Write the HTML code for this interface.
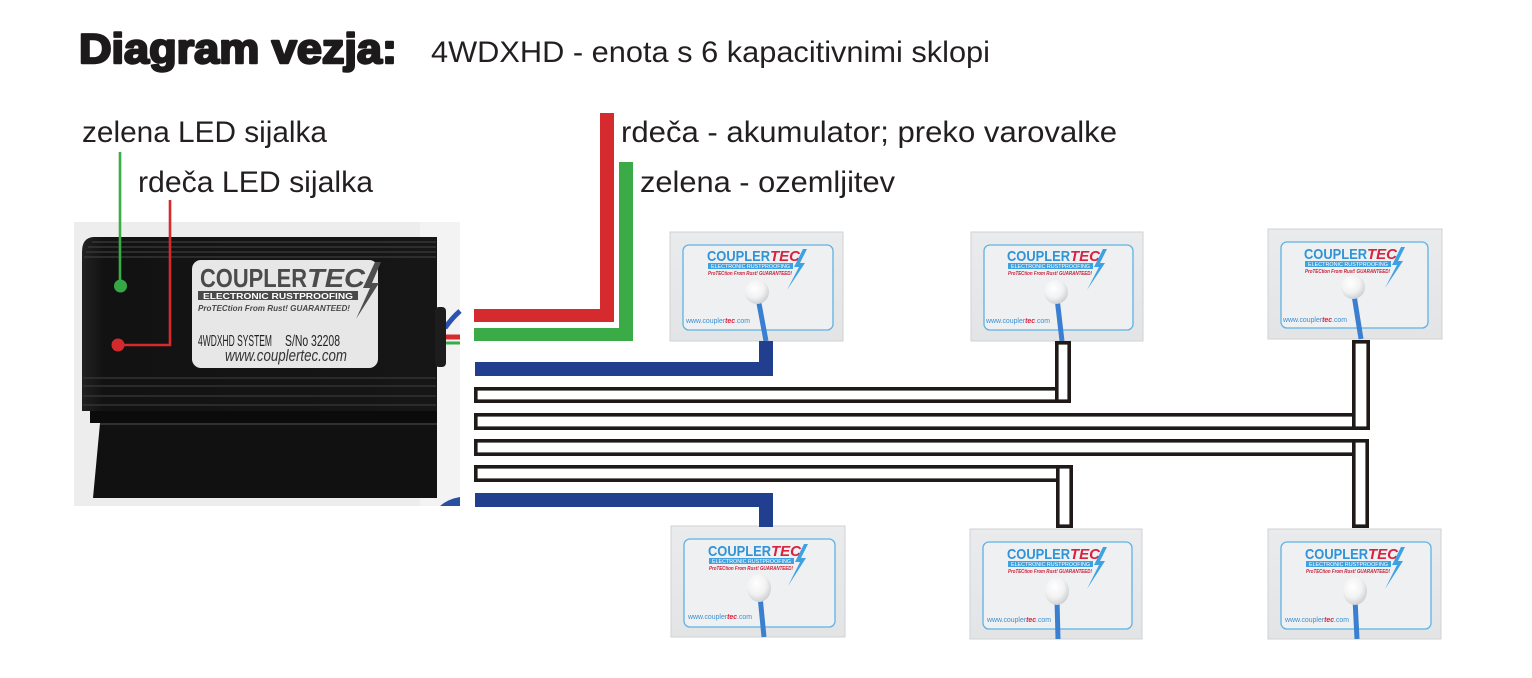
<!DOCTYPE html>
<html>
<head>
<meta charset="utf-8">
<style>
  html,body{margin:0;padding:0;background:#ffffff;}
  body{width:1532px;height:678px;overflow:hidden;}
  svg{display:block;}
  text{font-family:"Liberation Sans", Arial, sans-serif;}
</style>
</head>
<body>
<svg width="1532" height="678" viewBox="0 0 1532 678" xmlns="http://www.w3.org/2000/svg">
  <defs>
    <radialGradient id="ball" cx="40%" cy="35%" r="65%">
      <stop offset="0" stop-color="#ffffff"/>
      <stop offset="0.6" stop-color="#f2f2f2"/>
      <stop offset="1" stop-color="#cfd2d4"/>
    </radialGradient>
    <linearGradient id="bodyg" x1="0" y1="0" x2="1" y2="0">
      <stop offset="0" stop-color="#222"/>
      <stop offset="0.06" stop-color="#121212"/>
      <stop offset="1" stop-color="#161616"/>
    </linearGradient>
    <linearGradient id="cardg" x1="0" y1="0" x2="0" y2="1">
      <stop offset="0" stop-color="#e9ebed"/>
      <stop offset="1" stop-color="#e2e4e6"/>
    </linearGradient>
  </defs>

  <!-- Title -->
  <text x="79" y="63" font-size="42" font-weight="bold" fill="#1c1a1a" stroke="#1c1a1a" stroke-width="2.4" stroke-linejoin="round" textLength="318" lengthAdjust="spacingAndGlyphs">Diagram vezja:</text>
  <text x="431" y="62" font-size="30" fill="#231f20" textLength="559" lengthAdjust="spacingAndGlyphs">4WDXHD - enota s 6 kapacitivnimi sklopi</text>

  <!-- LED labels -->
  <text x="82" y="142" font-size="30" fill="#231f20" textLength="245" lengthAdjust="spacingAndGlyphs">zelena LED sijalka</text>
  <text x="138" y="192" font-size="30" fill="#231f20" textLength="235" lengthAdjust="spacingAndGlyphs">rdeča LED sijalka</text>

  <!-- Wire labels -->
  <text x="621" y="142" font-size="30" fill="#231f20" textLength="496" lengthAdjust="spacingAndGlyphs">rdeča - akumulator; preko varovalke</text>
  <text x="640" y="192" font-size="30" fill="#231f20" textLength="255" lengthAdjust="spacingAndGlyphs">zelena - ozemljitev</text>

  <!-- Control box photo -->
  <rect x="74" y="222" width="386" height="284" fill="#ededed"/>
  <rect x="420" y="222" width="40" height="284" fill="#f3f3f3"/>
  <!-- main body -->
  <path d="M93,237 L437,237 L437,411 L82,411 L82,252 Q82,238 93,237 Z" fill="url(#bodyg)"/>
  <!-- top fins -->
  <g stroke="#3c3c3c" stroke-width="1.2">
    <line x1="92" y1="242" x2="436" y2="242"/>
    <line x1="88" y1="247" x2="436" y2="247"/>
    <line x1="86" y1="252" x2="436" y2="252"/>
    <line x1="84" y1="257" x2="436" y2="257"/>
  </g>
  <!-- lower fins -->
  <g stroke="#383838" stroke-width="1.3">
    <line x1="83" y1="378" x2="436" y2="378"/>
    <line x1="83" y1="386" x2="436" y2="386"/>
    <line x1="83" y1="396" x2="436" y2="396"/>
    <line x1="83" y1="405" x2="436" y2="405"/>
  </g>
  <rect x="90" y="411" width="347" height="12" fill="#0b0b0b"/>
  <!-- foot -->
  <path d="M100,423 L437,423 L437,498 L93,498 Z" fill="#111111"/>
  <line x1="100" y1="424" x2="437" y2="424" stroke="#3a3a3a" stroke-width="1.5"/>
  <path d="M440,506 Q448,499 460,497 L460,506 Z" fill="#2a4fa0"/>
  <!-- gland + wires -->
  <path d="M445,328 Q452,318 460,311" stroke="#2a52b0" stroke-width="5" fill="none"/>
  <line x1="445" y1="337" x2="460" y2="337" stroke="#d52b2f" stroke-width="5"/>
  <line x1="445" y1="343" x2="460" y2="343" stroke="#3bab48" stroke-width="3"/>
  <rect x="435" y="307" width="11" height="60" rx="4" fill="#1d1d1d"/>

  <!-- label on box -->
  <rect x="192" y="260" width="186" height="108" rx="9" fill="#e7e7e7"/>
  <text x="200" y="287" font-size="26" font-weight="bold" fill="#4b4b4b" textLength="107" lengthAdjust="spacingAndGlyphs">COUPLER</text>
  <text x="307" y="287" font-size="26" font-weight="bold" font-style="italic" fill="#4b4b4b" textLength="58" lengthAdjust="spacingAndGlyphs">TEC</text>
  <rect x="198" y="291" width="160" height="9" fill="#4a4a4a"/>
  <text x="203" y="299" font-size="8" font-weight="bold" fill="#ffffff" textLength="150" lengthAdjust="spacingAndGlyphs">ELECTRONIC RUSTPROOFING</text>
  <path d="M375,262 L363,288 L370,288 L356,319 L379,283 L372,283 L381,262 Z" fill="#4d4d4d"/>
  <text x="198" y="311" font-size="8.5" font-weight="bold" font-style="italic" fill="#4a4a4a" textLength="152" lengthAdjust="spacingAndGlyphs">ProTECtion From Rust! GUARANTEED!</text>
  <text x="198" y="346" font-size="16" fill="#222222" textLength="74" lengthAdjust="spacingAndGlyphs">4WDXHD SYSTEM</text>
  <text x="285" y="346" font-size="16" fill="#222222" textLength="55" lengthAdjust="spacingAndGlyphs">S/No 32208</text>
  <text x="225" y="361" font-size="17" font-style="italic" fill="#333333" textLength="122" lengthAdjust="spacingAndGlyphs">www.couplertec.com</text>

  <!-- LED indicators -->
  <line x1="120" y1="152" x2="120" y2="286" stroke="#3bab48" stroke-width="2.6"/>
  <circle cx="120.5" cy="286" r="6.5" fill="#35a845"/>
  <polyline points="170,200 170,345 118,345" stroke="#d52b2f" stroke-width="2.6" fill="none"/>
  <circle cx="118" cy="345" r="6.5" fill="#d32a2e"/>

  <!-- Red & green wires -->
  <path d="M474,309 H600 V113 H614 V322 H474 Z" fill="#d52b2f"/>
  <path d="M474,328 H619 V162 H633 V341 H474 Z" fill="#3bab48"/>

  <!-- ===== Cards top row ===== -->
  <!-- Card 1 -->
  <g transform="translate(670,232)">
    <rect x="0" y="0" width="173" height="109" fill="url(#cardg)" stroke="#d0d2d4" stroke-width="1"/>
    <rect x="13" y="13" width="150" height="85" rx="6" fill="#eef0f2" stroke="#5fb2e4" stroke-width="1.3"/>
    <text x="37" y="29" font-size="15" font-weight="bold" fill="#2f93d6" textLength="63" lengthAdjust="spacingAndGlyphs">COUPLER</text>
    <text x="100" y="29" font-size="15" font-weight="bold" font-style="italic" fill="#d6233f" textLength="30" lengthAdjust="spacingAndGlyphs">TEC</text>
    <rect x="38" y="31" width="85" height="6" fill="#3ea2e2"/>
    <text x="41" y="36" font-size="5.5" fill="#ffffff" textLength="79" lengthAdjust="spacingAndGlyphs">ELECTRONIC RUSTPROOFING</text>
    <path d="M133,17 L124,35 L129,35 L117,58 L135,31 L130,31 L137,17 Z" fill="#3ea2e2"/>
    <text x="38" y="43" font-size="5" font-weight="bold" font-style="italic" fill="#c9213b" textLength="84" lengthAdjust="spacingAndGlyphs">ProTECtion From Rust! GUARANTEED!</text>
    <line x1="88" y1="66" x2="96" y2="109" stroke="#3b7fd0" stroke-width="5"/>
    <circle cx="87" cy="60" r="12" fill="url(#ball)"/>
    <text x="16" y="91" font-size="7" fill="#3a8fd0" textLength="64" lengthAdjust="spacingAndGlyphs">www.coupler<tspan fill="#d6233f" font-weight="bold" font-style="italic">tec</tspan>.com</text>
  </g>
  <!-- Card 2 -->
  <g transform="translate(971,232)">
    <rect x="0" y="0" width="172" height="109" fill="url(#cardg)" stroke="#d0d2d4" stroke-width="1"/>
    <rect x="13" y="13" width="149" height="85" rx="6" fill="#eef0f2" stroke="#5fb2e4" stroke-width="1.3"/>
    <text x="36" y="29" font-size="15" font-weight="bold" fill="#2f93d6" textLength="63" lengthAdjust="spacingAndGlyphs">COUPLER</text>
    <text x="99" y="29" font-size="15" font-weight="bold" font-style="italic" fill="#d6233f" textLength="30" lengthAdjust="spacingAndGlyphs">TEC</text>
    <rect x="37" y="31" width="85" height="6" fill="#3ea2e2"/>
    <text x="40" y="36" font-size="5.5" fill="#ffffff" textLength="79" lengthAdjust="spacingAndGlyphs">ELECTRONIC RUSTPROOFING</text>
    <path d="M132,17 L123,35 L128,35 L116,58 L134,31 L129,31 L136,17 Z" fill="#3ea2e2"/>
    <text x="37" y="43" font-size="5" font-weight="bold" font-style="italic" fill="#c9213b" textLength="84" lengthAdjust="spacingAndGlyphs">ProTECtion From Rust! GUARANTEED!</text>
    <line x1="86" y1="66" x2="91" y2="109" stroke="#3b7fd0" stroke-width="5"/>
    <circle cx="85" cy="60" r="12" fill="url(#ball)"/>
    <text x="15" y="91" font-size="7" fill="#3a8fd0" textLength="64" lengthAdjust="spacingAndGlyphs">www.coupler<tspan fill="#d6233f" font-weight="bold" font-style="italic">tec</tspan>.com</text>
  </g>
  <!-- Card 3 -->
  <g transform="translate(1268,229)">
    <rect x="0" y="0" width="174" height="110" fill="url(#cardg)" stroke="#d0d2d4" stroke-width="1"/>
    <rect x="13" y="13" width="147" height="86" rx="6" fill="#eef0f2" stroke="#5fb2e4" stroke-width="1.3"/>
    <text x="36" y="30" font-size="15" font-weight="bold" fill="#2f93d6" textLength="63" lengthAdjust="spacingAndGlyphs">COUPLER</text>
    <text x="99" y="30" font-size="15" font-weight="bold" font-style="italic" fill="#d6233f" textLength="30" lengthAdjust="spacingAndGlyphs">TEC</text>
    <rect x="37" y="32" width="86" height="6" fill="#3ea2e2"/>
    <text x="40" y="37" font-size="5.5" fill="#ffffff" textLength="80" lengthAdjust="spacingAndGlyphs">ELECTRONIC RUSTPROOFING</text>
    <path d="M133,18 L124,36 L129,36 L117,59 L135,32 L130,32 L137,18 Z" fill="#3ea2e2"/>
    <text x="37" y="44" font-size="5" font-weight="bold" font-style="italic" fill="#c9213b" textLength="85" lengthAdjust="spacingAndGlyphs">ProTECtion From Rust! GUARANTEED!</text>
    <line x1="86" y1="66" x2="93" y2="110" stroke="#3b7fd0" stroke-width="5"/>
    <circle cx="85" cy="58" r="12" fill="url(#ball)"/>
    <text x="15" y="93" font-size="7" fill="#3a8fd0" textLength="64" lengthAdjust="spacingAndGlyphs">www.coupler<tspan fill="#d6233f" font-weight="bold" font-style="italic">tec</tspan>.com</text>
  </g>

  <!-- ===== Cards bottom row ===== -->
  <!-- Card 4 -->
  <g transform="translate(671,526)">
    <rect x="0" y="0" width="174" height="111" fill="url(#cardg)" stroke="#d0d2d4" stroke-width="1"/>
    <rect x="13" y="13" width="151" height="88" rx="6" fill="#eef0f2" stroke="#5fb2e4" stroke-width="1.3"/>
    <text x="37" y="30" font-size="15" font-weight="bold" fill="#2f93d6" textLength="63" lengthAdjust="spacingAndGlyphs">COUPLER</text>
    <text x="100" y="30" font-size="15" font-weight="bold" font-style="italic" fill="#d6233f" textLength="30" lengthAdjust="spacingAndGlyphs">TEC</text>
    <rect x="38" y="32" width="85" height="6" fill="#3ea2e2"/>
    <text x="41" y="37" font-size="5.5" fill="#ffffff" textLength="79" lengthAdjust="spacingAndGlyphs">ELECTRONIC RUSTPROOFING</text>
    <path d="M133,18 L124,36 L129,36 L117,60 L135,32 L130,32 L137,18 Z" fill="#3ea2e2"/>
    <text x="38" y="44" font-size="5" font-weight="bold" font-style="italic" fill="#c9213b" textLength="84" lengthAdjust="spacingAndGlyphs">ProTECtion From Rust! GUARANTEED!</text>
    <line x1="89" y1="70" x2="93" y2="111" stroke="#3b7fd0" stroke-width="5"/>
    <ellipse cx="88" cy="62" rx="12" ry="14" fill="url(#ball)"/>
    <text x="17" y="93" font-size="7" fill="#3a8fd0" textLength="64" lengthAdjust="spacingAndGlyphs">www.coupler<tspan fill="#d6233f" font-weight="bold" font-style="italic">tec</tspan>.com</text>
  </g>
  <!-- Card 5 -->
  <g transform="translate(970,529)">
    <rect x="0" y="0" width="172" height="110" fill="url(#cardg)" stroke="#d0d2d4" stroke-width="1"/>
    <rect x="13" y="13" width="149" height="87" rx="6" fill="#eef0f2" stroke="#5fb2e4" stroke-width="1.3"/>
    <text x="37" y="30" font-size="15" font-weight="bold" fill="#2f93d6" textLength="63" lengthAdjust="spacingAndGlyphs">COUPLER</text>
    <text x="100" y="30" font-size="15" font-weight="bold" font-style="italic" fill="#d6233f" textLength="30" lengthAdjust="spacingAndGlyphs">TEC</text>
    <rect x="38" y="32" width="85" height="6" fill="#3ea2e2"/>
    <text x="41" y="37" font-size="5.5" fill="#ffffff" textLength="79" lengthAdjust="spacingAndGlyphs">ELECTRONIC RUSTPROOFING</text>
    <path d="M133,18 L124,36 L129,36 L117,60 L135,32 L130,32 L137,18 Z" fill="#3ea2e2"/>
    <text x="38" y="44" font-size="5" font-weight="bold" font-style="italic" fill="#c9213b" textLength="84" lengthAdjust="spacingAndGlyphs">ProTECtion From Rust! GUARANTEED!</text>
    <line x1="87" y1="70" x2="88" y2="110" stroke="#3b7fd0" stroke-width="5"/>
    <ellipse cx="87" cy="62" rx="12" ry="14" fill="url(#ball)"/>
    <text x="17" y="93" font-size="7" fill="#3a8fd0" textLength="64" lengthAdjust="spacingAndGlyphs">www.coupler<tspan fill="#d6233f" font-weight="bold" font-style="italic">tec</tspan>.com</text>
  </g>
  <!-- Card 6 -->
  <g transform="translate(1268,529)">
    <rect x="0" y="0" width="173" height="110" fill="url(#cardg)" stroke="#d0d2d4" stroke-width="1"/>
    <rect x="13" y="13" width="150" height="87" rx="6" fill="#eef0f2" stroke="#5fb2e4" stroke-width="1.3"/>
    <text x="37" y="30" font-size="15" font-weight="bold" fill="#2f93d6" textLength="63" lengthAdjust="spacingAndGlyphs">COUPLER</text>
    <text x="100" y="30" font-size="15" font-weight="bold" font-style="italic" fill="#d6233f" textLength="30" lengthAdjust="spacingAndGlyphs">TEC</text>
    <rect x="38" y="32" width="85" height="6" fill="#3ea2e2"/>
    <text x="41" y="37" font-size="5.5" fill="#ffffff" textLength="79" lengthAdjust="spacingAndGlyphs">ELECTRONIC RUSTPROOFING</text>
    <path d="M133,18 L124,36 L129,36 L117,60 L135,32 L130,32 L137,18 Z" fill="#3ea2e2"/>
    <text x="38" y="44" font-size="5" font-weight="bold" font-style="italic" fill="#c9213b" textLength="84" lengthAdjust="spacingAndGlyphs">ProTECtion From Rust! GUARANTEED!</text>
    <line x1="87" y1="70" x2="89" y2="110" stroke="#3b7fd0" stroke-width="5"/>
    <ellipse cx="87" cy="62" rx="12" ry="14" fill="url(#ball)"/>
    <text x="17" y="93" font-size="7" fill="#3a8fd0" textLength="64" lengthAdjust="spacingAndGlyphs">www.coupler<tspan fill="#d6233f" font-weight="bold" font-style="italic">tec</tspan>.com</text>
  </g>

  <!-- Blue wires -->
  <path d="M475,362 H759 V341 H773 V376 H475 Z" fill="#213f8e"/>
  <path d="M475,493 H773 V527 H759 V507 H475 Z" fill="#213f8e"/>

  <!-- Black outlined wires -->
  <g fill="#ffffff" stroke="#1f1a17" stroke-width="3.6">
    <!-- W1 -->
    <rect x="475.8" y="388.8" width="581" height="12.4"/>
    <rect x="1056.8" y="342.8" width="12.4" height="58.4"/>
    <!-- W2 -->
    <rect x="475.8" y="414.8" width="879.8" height="13.4"/>
    <rect x="1353.8" y="341.8" width="14.4" height="86.4"/>
    <!-- W3 -->
    <rect x="475.8" y="440.8" width="879.8" height="13.4"/>
    <rect x="1353.8" y="440.8" width="13.4" height="85.4"/>
    <!-- W4 -->
    <rect x="475.8" y="466.8" width="583.8" height="13.4"/>
    <rect x="1057.8" y="466.8" width="13.4" height="59.4"/>
  </g>
</svg>
</body>
</html>
